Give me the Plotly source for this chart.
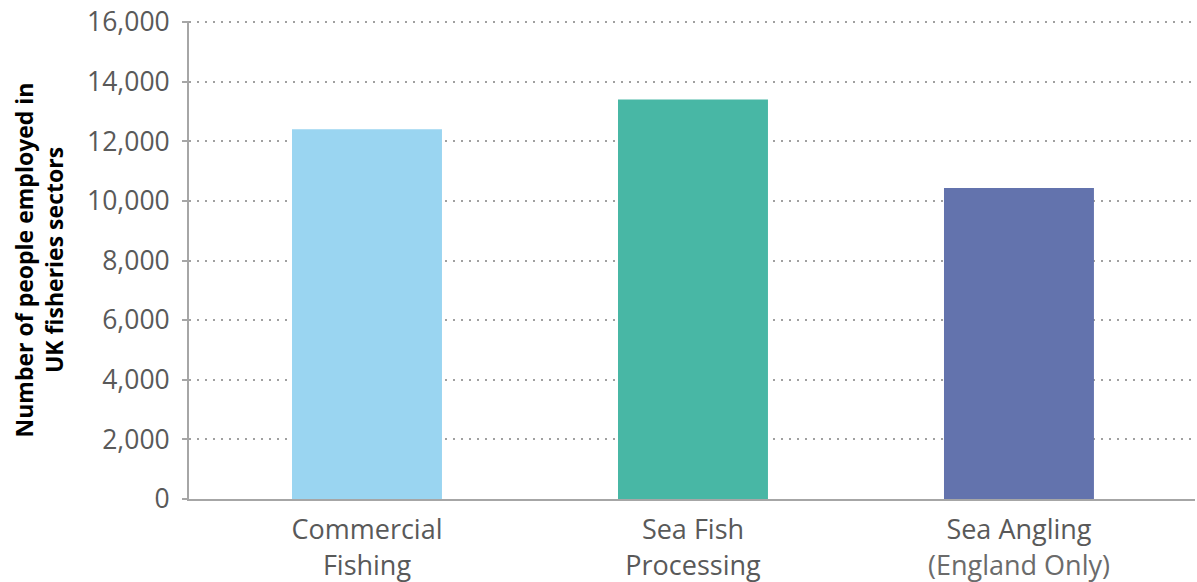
import plotly.graph_objects as go

categories = ["Commercial<br>Fishing", "Sea Fish<br>Processing",
              "Sea Angling<br><span style='color:#6B6B6B'>(England Only)</span>"]
values = [12400, 13400, 10430]
colors = ["#9AD5F1", "#48B7A5", "#6373AD"]
tick_vals = [0, 2000, 4000, 6000, 8000, 10000, 12000, 14000, 16000]
tick_text = ["0", "2,000", "4,000", "6,000", "8,000", "10,000", "12,000", "14,000", "16,000"]

fig = go.Figure()
fig.add_trace(go.Bar(x=list(range(len(categories))), y=values,
                     marker=dict(color=colors, line=dict(width=0)),
                     width=0.46))

fig.update_layout(
    width=1197, height=582,
    margin=dict(l=189, r=2, t=21, b=83),
    paper_bgcolor="white", plot_bgcolor="white",
    font=dict(family="Open Sans", color="#595959"),
    showlegend=False,
    xaxis=dict(
        range=[-0.546, 2.54],
        tickmode="array", tickvals=list(range(len(categories))), ticktext=categories,
        tickfont=dict(size=27, color="#595959"),
        showgrid=False, zeroline=False,
        showline=True, linecolor="#A6A6A6", linewidth=2,
        ticks="", fixedrange=True, automargin=False,
        ticklabelstandoff=6, ticklabeloverflow="allow",
    ),
    yaxis=dict(
        range=[0, 16034],
        tickmode="array", tickvals=tick_vals, ticktext=tick_text,
        tickfont=dict(size=26.5, color="#595959"),
        showgrid=True, gridcolor="#A0A0A0", gridwidth=2, griddash="2px,6px",
        zeroline=False,
        showline=True, linecolor="#A6A6A6", linewidth=2,
        ticks="outside", ticklen=5, tickcolor="#A6A6A6", tickwidth=2,
        ticklabelstandoff=7, ticklabeloverflow="allow",
        automargin=False, fixedrange=True,
        title=dict(text="<b>Number of people employed in<br>UK fisheries sectors</b>",
                   font=dict(size=23, color="#000000"), standoff=17),
    ),
)

# remove the default page margin so the figure fills the window exactly
fig.write_html("out.html",
               config={"displayModeBar": False},
               post_script="document.body.style.margin='0';document.body.style.overflow='hidden';")
